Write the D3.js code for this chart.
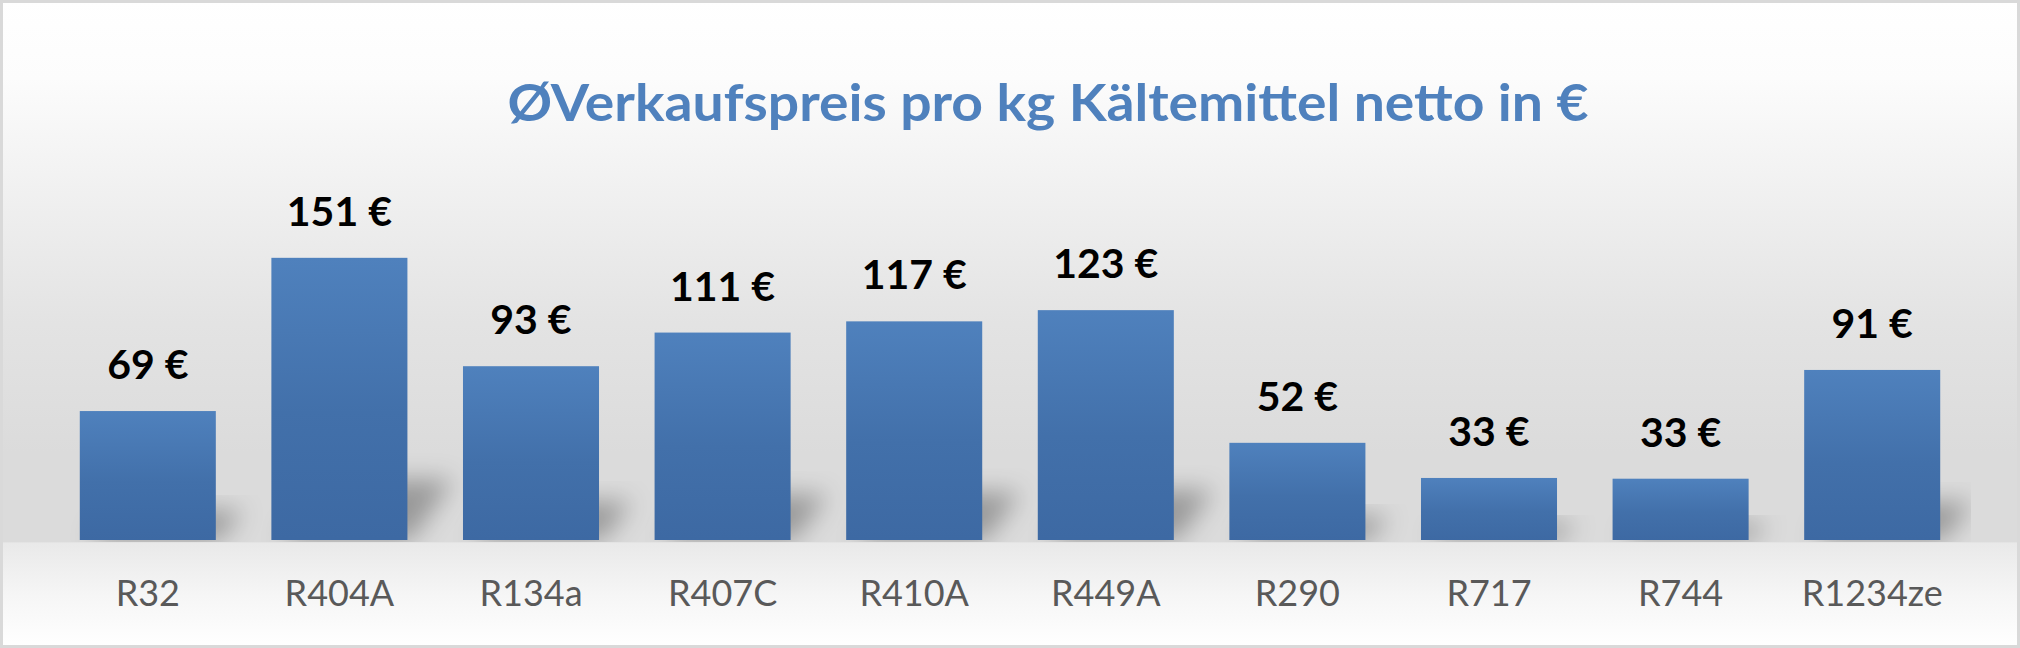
<!DOCTYPE html>
<html>
<head>
<meta charset="utf-8">
<script src="https://cdn.jsdelivr.net/npm/d3@7"></script>
<style>
  html, body { margin: 0; padding: 0; background: #fff; }
  svg { display: block; }
</style>
</head>
<body>
<svg id="chart" width="2020" height="648"></svg>
<script>
const title = "ØVerkaufspreis pro kg Kältemittel netto in €";
const categories = ["R32", "R404A", "R134a", "R407C", "R410A", "R449A", "R290", "R717", "R744", "R1234ze"];
const values = [69, 151, 93, 111, 117, 123, 52, 33.2, 32.8, 91];
const yDomain = [0, 160];

const W = 2020, H = 648;
const svg = d3.select("#chart");
const defs = svg.append("defs");

// chart background gradient
const bg = defs.append("linearGradient").attr("id", "bgGrad")
  .attr("x1", 0).attr("y1", 0).attr("x2", 0).attr("y2", 1);
[[0, "#ffffff"], [0.12, "#fcfcfc"], [0.3, "#f0f0f0"], [0.5, "#e3e3e3"], [0.7, "#dbdbdb"],
 [0.836, "#dbdbdb"], [0.838, "#e9e9e9"], [0.92, "#f6f6f6"], [1, "#ffffff"]]
  .forEach(([o, c]) => bg.append("stop").attr("offset", o).attr("stop-color", c));

// bar gradient
const bar = defs.append("linearGradient").attr("id", "barGrad")
  .attr("x1", 0).attr("y1", 0).attr("x2", 0).attr("y2", 1);
[[0, "#4f81bd"], [0.55, "#4270aa"], [1, "#3d69a3"]]
  .forEach(([o, c]) => bar.append("stop").attr("offset", o).attr("stop-color", c));

// shadow blur
defs.append("filter").attr("id", "blur").attr("x", "-50%").attr("y", "-50%")
  .attr("width", "200%").attr("height", "200%")
  .append("feGaussianBlur").attr("stdDeviation", 12);

const x = d3.scaleBand().domain(categories).range([52, 1968])
  .paddingInner(0.29).paddingOuter(0.145);
const y = d3.scaleLinear().domain(yDomain).range([540, 241]);

defs.append("clipPath").attr("id", "plotClip").append("rect")
  .attr("x", 0).attr("y", 0).attr("width", 1971).attr("height", 542);

svg.append("rect").attr("x", 0).attr("y", 0).attr("width", W).attr("height", H)
  .attr("fill", "url(#bgGrad)");

// title
svg.append("text")
  .attr("x", 1048).attr("y", 121)
  .attr("text-anchor", "middle")
  .attr("font-family", "Lato, 'Open Sans', sans-serif")
  .attr("font-weight", 700)
  .attr("font-size", 52)
  .attr("fill", "#4f81bd")
  .attr("textLength", 1081)
  .attr("lengthAdjust", "spacingAndGlyphs")
  .text(title);

const data = categories.map((c, i) => ({ c, v: values[i] }));

// shadows
const sh = svg.append("g").attr("clip-path", "url(#plotClip)");
sh.selectAll("path").data(data).join("path")
  .attr("d", d => {
    const x0 = x(d.c), x1 = x0 + x.bandwidth();
    const yb = y(0), h = y(0) - y(d.v);
    const dx = h * 0.12 + 8, dy = h * 0.2 + 4;
    return `M${x0 + 10},${yb} L${x1 + 4},${yb} L${x1 + 4 + dx},${yb - dy} L${x0 + 10 + dx},${yb - dy} Z`;
  })
  .attr("fill", "#000").attr("fill-opacity", 0.3)
  .attr("filter", "url(#blur)");

// bars
svg.append("g").selectAll("rect").data(data).join("rect")
  .attr("x", d => x(d.c))
  .attr("y", d => y(d.v))
  .attr("width", x.bandwidth())
  .attr("height", d => y(0) - y(d.v))
  .attr("fill", "url(#barGrad)");

// data labels
svg.append("g").selectAll("text").data(data).join("text")
  .attr("x", d => x(d.c) + x.bandwidth() / 2)
  .attr("y", d => y(d.v) - 32)
  .attr("text-anchor", "middle")
  .attr("font-family", "Lato, 'Open Sans', sans-serif")
  .attr("font-weight", 700)
  .attr("font-size", 41)
  .attr("fill", "#000")
  .text(d => Math.round(d.v) + " €");

// x axis
const xAxis = svg.append("g").attr("transform", `translate(0,${y(0)})`)
  .call(d3.axisBottom(x).tickSize(0).tickPadding(0));
xAxis.select(".domain").remove();
xAxis.selectAll("text")
  .attr("dy", 0)
  .attr("y", 66)
  .attr("font-family", "Lato, 'Open Sans', sans-serif")
  .attr("font-size", 36)
  .attr("fill", "#595959");

// border
svg.append("rect").attr("x", 1.5).attr("y", 1.5).attr("width", W - 3).attr("height", H - 3)
  .attr("fill", "none").attr("stroke", "#d9d9d9").attr("stroke-width", 3);
</script>
</body>
</html>
